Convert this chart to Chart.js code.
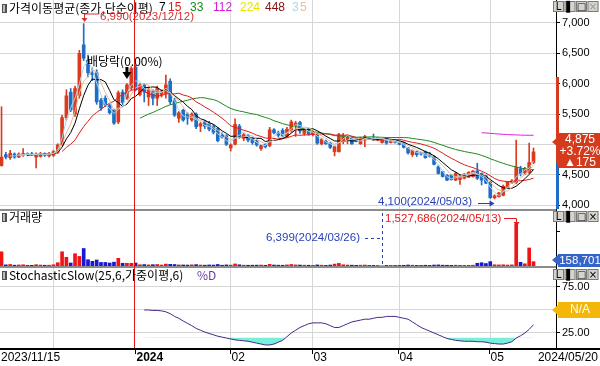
<!DOCTYPE html>
<html>
<head>
<meta charset="utf-8">
<script src="https://cdn.jsdelivr.net/npm/chart.js@4.4.0/dist/chart.umd.min.js"></script>
<style>
html, body { margin: 0; padding: 0; background: #fff; }
#wrap { position: relative; width: 600px; height: 366px; }
</style>
</head>
<body>
<div id="wrap"><canvas id="stockChart" width="600" height="366"></canvas></div>
<script>
//
// data (daily, 2023/11/15 .. 2024/05/20)
//
var opens  = [4650,4830,4780,4840,4790,4820,4840,4840,4790,4800,4850,4810,4820,4870,4990,5440,5860,5500,5800,6640,
              6390,6180,6180,5730,5760,5640,5570,5370,5860,5760,5930,6270,5820,5980,5780,5880,5760,5820,5840,6040,
              5720,5430,5560,5500,5400,5500,5300,5380,5340,5300,5260,5150,5140,4940,5000,5300,5100,5150,5100,5060,
              4930,5000,4980,5240,5190,5230,5130,5220,5310,5360,5180,5250,5160,5170,5010,5050,5020,4880,4880,5060,
              5070,5110,5100,5010,5070,5110,5110,5070,5030,5100,5030,5050,5040,5030,4940,4830,4880,4860,4880,4840,
              4800,4630,4550,4490,4490,4410,4420,4440,4460,4470,4560,4520,4480,4380,4120,4140,4160,4300,4370,4370,
              4600,4530,4540,4700];
var highs  = [5620,4870,4900,4860,4860,4930,4860,4870,4860,4870,4860,4870,4900,5010,5480,5900,5920,5960,6550,6990,
              6470,6260,6230,5760,5800,5660,5580,5880,5900,6000,6280,6300,6000,6000,5950,5900,5960,5900,6140,6080,
              5760,5540,5580,5520,5520,5520,5360,5400,5380,5330,5280,5190,5160,5010,5420,5330,5180,5160,5120,5080,
              5000,5010,5280,5260,5220,5260,5280,5400,5380,5380,5260,5270,5230,5180,5100,5070,5030,4970,5180,5180,
              5160,5130,5110,5120,5150,5120,5170,5120,5090,5110,5080,5060,5050,5040,4950,4910,4890,4870,4890,4870,
              4810,4650,4560,4500,4500,4540,4490,4520,4550,4570,4690,4530,4490,4390,4170,4210,4330,4390,4420,5070,
              4640,4620,5020,4940];
var lows   = [4640,4760,4750,4770,4780,4800,4810,4820,4610,4790,4800,4790,4800,4850,4980,5400,5540,5460,5760,6380,
              6110,6050,5660,5560,5620,5500,5330,5340,5650,5740,5900,5880,5800,5700,5640,5650,5640,5780,5760,5660,
              5460,5360,5380,5330,5380,5260,5210,5260,5220,5170,5040,5100,4980,4890,4990,5100,5060,5040,5000,4970,
              4900,4940,4960,5170,5120,5120,5120,5200,5130,5180,5150,5150,5140,5000,4990,5000,4930,4810,4870,5010,
              5010,5000,5040,5000,4960,5080,5060,5060,5020,5000,5020,5020,4990,4940,4840,4800,4800,4820,4770,4790,
              4660,4510,4460,4400,4410,4400,4340,4430,4450,4460,4420,4330,4350,4110,4100,4130,4150,4290,4350,4350,
              4480,4500,4520,4680];
var closes = [4790,4790,4850,4790,4840,4850,4830,4830,4840,4850,4820,4850,4880,4990,5440,5800,5570,5920,6500,6420,
              6180,6150,5700,5600,5650,5520,5350,5850,5690,5980,6250,5900,5980,5860,5900,5760,5920,5880,5980,5700,
              5480,5520,5400,5430,5500,5290,5340,5300,5250,5200,5060,5120,5000,4990,5330,5130,5160,5070,5030,4990,
              4980,4960,5240,5190,5150,5140,5250,5370,5350,5220,5240,5170,5200,5020,5080,5010,4950,4960,5160,5140,
              5150,5010,5050,5100,5130,5090,5090,5110,5080,5020,5070,5030,5000,4950,4860,4900,4830,4840,4780,4800,
              4670,4520,4470,4410,4420,4520,4480,4510,4540,4560,4440,4410,4360,4120,4150,4200,4310,4380,4400,4620,
              4520,4600,4700,4875];
var volumes = [520000,42000,55000,30000,38000,45000,22000,25000,48000,35000,28000,30000,46000,120000,520000,320000,110000,450000,350000,640000,
               230000,170000,220000,130000,130000,110000,140000,280000,100000,100000,100000,110000,45000,52000,40000,48000,55000,35000,70000,60000,
               55000,40000,38000,35000,42000,50000,35000,30000,38000,35000,55000,28000,40000,32000,75000,45000,30000,28000,30000,32000,
               35000,25000,60000,35000,30000,28000,40000,55000,40000,35000,30000,28000,25000,40000,30000,22000,35000,70000,95000,45000,
               35000,30000,25000,30000,35000,20000,22000,20000,6399,20000,22000,18000,20000,25000,35000,30000,22000,20000,28000,22000,
               35000,40000,30000,28000,25000,30000,25000,22000,25000,30000,100000,120000,90000,160000,45000,40000,45000,35000,40000,1527686,
               135000,80000,660000,158701];
// StochasticSlow %D, first value at index 33
var stochStart = 33;
var stochD = [50,50,49.5,49.5,49,48,
              46,43,41,38,35.5,33,30,
              28,26,24.5,23,21.5,20.5,19.5,
              18.5,17.5,17,16.5,16,15,14,
              13,12,12,13,15,17,21,
              25,28,31,33,35,36,36,
              36,35,33,31,31,33,35,
              37,38,39,40,40,41,42,
              42,43,43,43,42,41,40,
              37,34,31,29,27,25,23,
              21,19,18,17,16.5,16,16,
              16,15.5,15.5,15,14,13.5,13,
              13,14,15.5,19.5,22,25,29,34];

var maPeriods = [3, 5, 7, 15, 33, 112];
var maColors  = ['#a9d6ea', '#e4b996', '#000000', '#e01a1a', '#1c8a1c', '#e21ee2'];

var xGridIdx    = [12, 53, 72, 92, 113];
var yearIdx     = 31;
var xTickIdx    = [31, 53, 72, 92, 113];
var xTickLabels = ['2024', '02', '03', '04', '05'];
var firstDate = '2023/11/15', lastDate = '2024/05/20';

var upCol = '#dc3a1c', dnCol = '#1f6ec6';
var volUpCol = '#f01414', volDnCol = '#1818d6';

function sma(arr, n) {
	return arr.map(function(v, i) {
		if (i < n - 1) return null;
		var s = 0;
		for (var k = i - n + 1; k <= i; k++) s += arr[k];
		return s / n;
	});
}

var candleCols = closes.map(function(c, i) { return c >= opens[i] ? upCol : dnCol; });
var volCols = closes.map(function(c, i) { return c >= opens[i] ? volUpCol : volDnCol; });

var datasets = [];

maPeriods.forEach(function(n, k) {
	var ma = sma(closes, n);
	datasets.push({
		type: 'line', yAxisID: 'yP', order: 1,
		data: ma.map(function(v, i) { return {x: i, y: v}; }),
		borderColor: maColors[k], borderWidth: 1, pointRadius: 0, tension: 0
	});
});

datasets.push({
	type: 'line', yAxisID: 'yS', order: 1,
	data: stochD.map(function(v, k) { return {x: stochStart + k, y: v}; }),
	borderColor: '#4a2687', borderWidth: 1, pointRadius: 0, tension: 0,
	fill: {target: {value: 20}, above: 'rgba(0,0,0,0)', below: '#78efd9'}
});

// wicks
datasets.push({
	type: 'bar', yAxisID: 'yP', order: 2, grouped: false,
	data: lows.map(function(l, i) { return {x: i, y: [l, highs[i]]}; }),
	backgroundColor: candleCols, barThickness: 1, borderWidth: 0
});
// bodies
datasets.push({
	type: 'bar', yAxisID: 'yP', order: 2, grouped: false,
	data: opens.map(function(o, i) { return {x: i, y: [o, closes[i]]}; }),
	backgroundColor: candleCols, barThickness: 3, borderWidth: 0, minBarLength: 1
});
// volume
datasets.push({
	type: 'bar', yAxisID: 'yV', order: 2, grouped: false,
	data: volumes.map(function(v, i) { return {x: i, y: v}; }),
	backgroundColor: volCols, barThickness: 3, borderWidth: 0
});

function fixWidth(s) { s.width = 44; s.paddingTop = 0; s.paddingBottom = 0; }
function setTicks(list) { return function(s) { s.ticks = list.map(function(v) { return {value: v}; }); }; }

var priceTicks = [], volTicks = [];
for (var p = 4000; p <= 7250; p += 250) priceTicks.push(p);
for (var q = 250000; q <= 1750000; q += 250000) volTicks.push(q);

var tickFont = {family: 'Liberation Sans', size: 11};

function hLabel(step, fmt) {
	return function(v) { return v % step === 0 ? fmt(v) : ''; };
}

var overlay = {
	id: 'overlay',
	afterDraw: function(chart) {
		var ctx = chart.ctx;
		var xs = chart.scales.x, yP = chart.scales.yP;
		ctx.save();

		// panel separators and bottom line
		ctx.fillStyle = '#8c8c8c';
		ctx.fillRect(0, 209, 556, 2);
		ctx.fillRect(0, 266, 556, 2);
		ctx.fillStyle = '#000';
		ctx.fillRect(0, 348, 600, 2);

		// year line
		var xj = Math.floor(xs.getPixelForValue(yearIdx)) - 1;
		ctx.fillStyle = '#e01414';
		ctx.fillRect(xj, 0, 1, 348);

		// axis range bar
		ctx.fillStyle = '#d83a1c';
		ctx.fillRect(556, yP.getPixelForValue(6110), 3, yP.getPixelForValue(4700) - yP.getPixelForValue(6110));
		ctx.fillStyle = '#1f6ec6';
		ctx.fillRect(556, yP.getPixelForValue(4700), 3, 209 - yP.getPixelForValue(4700));

		// headers
		ctx.textBaseline = 'middle';
		ctx.textAlign = 'left';
		function icon(y) {
			ctx.fillStyle = '#505050'; ctx.fillRect(2, y - 4, 5, 9);
			ctx.fillStyle = '#b8b8b8'; ctx.fillRect(3, y - 3, 2, 7);
		}
		icon(8); icon(217); icon(275);
		ctx.font = '12px "Noto Sans CJK KR"';
		ctx.fillStyle = '#000';
		ctx.fillText('가격이동평균(종가,단순이평)', 9, 8);
		var legTxt = ['7', '15', '33', '112', '224', '448', '3', '5'];
		var legCol = ['#000000', '#e01a1a', '#1c8a1c', '#d21ed2', '#e6e600', '#8a1010', '#b4d6e6', '#e2c49e'];
		var legX = [159, 168, 190, 213, 240, 265, 292, 300];
		ctx.font = '12px "Liberation Sans"';
		legTxt.forEach(function(t, k) { ctx.fillStyle = legCol[k]; ctx.fillText(t, legX[k], 8); });
		ctx.font = '12px "Noto Sans CJK KR"';
		ctx.fillStyle = '#000';
		ctx.fillText('거래량', 9, 217);
		ctx.fillText('StochasticSlow(25,6,가중이평,6)', 9, 275);
		ctx.fillStyle = '#6b3aa8';
		ctx.fillText('%D', 197, 275);

		// high marker
		var xh = Math.round(xs.getPixelForValue(19)) + 0.5;
		ctx.strokeStyle = '#d83030'; ctx.fillStyle = '#d83030'; ctx.lineWidth = 1;
		ctx.beginPath(); ctx.moveTo(xh, 21); ctx.lineTo(xh, 14); ctx.lineTo(99, 14); ctx.stroke();
		ctx.beginPath(); ctx.moveTo(xh - 3, 18); ctx.lineTo(xh + 3, 18); ctx.lineTo(xh, 22); ctx.fill();
		ctx.font = '11.5px "Liberation Sans"';
		ctx.fillText('6,990(2023/12/12)', 100, 17);

		// ex-dividend marker
		ctx.fillStyle = '#000';
		ctx.font = '12px "Noto Sans CJK KR"';
		ctx.fillText('배당락(0.00%)', 87, 61);
		var xd = xs.getPixelForValue(29);
		ctx.fillRect(xd - 1.5, 67, 3, 6);
		ctx.beginPath(); ctx.moveTo(xd - 4.5, 72); ctx.lineTo(xd + 4.5, 72); ctx.lineTo(xd, 79); ctx.fill();

		// low marker
		var xl = xs.getPixelForValue(114);
		ctx.fillStyle = '#2a40b8'; ctx.strokeStyle = '#2a40b8';
		ctx.font = '11.5px "Liberation Sans"';
		ctx.fillText('4,100(2024/05/03)', 378, 202);
		ctx.beginPath(); ctx.moveTo(478, 203.5); ctx.lineTo(xl - 2, 203.5); ctx.stroke();
		ctx.beginPath(); ctx.moveTo(xl - 5, 200.5); ctx.lineTo(xl, 203.5); ctx.lineTo(xl - 5, 206.5); ctx.fill();

		// min volume marker
		var xm = Math.round(xs.getPixelForValue(88)) + 0.5;
		ctx.fillText('6,399(2024/03/26)', 266, 238);
		ctx.setLineDash([3, 3]);
		ctx.beginPath(); ctx.moveTo(365, 238.5); ctx.lineTo(xm, 238.5); ctx.stroke();
		ctx.beginPath(); ctx.moveTo(xm, 213); ctx.lineTo(xm, 266); ctx.stroke();
		ctx.setLineDash([]);

		// max volume marker
		var xv = Math.round(xs.getPixelForValue(119)) + 0.5;
		ctx.fillStyle = '#e41a1a'; ctx.strokeStyle = '#e41a1a';
		ctx.fillText('1,527,686(2024/05/13)', 385, 219);
		ctx.beginPath(); ctx.moveTo(504, 218.5); ctx.lineTo(xv, 218.5); ctx.lineTo(xv, 223); ctx.stroke();
		ctx.beginPath(); ctx.moveTo(xv - 3, 222); ctx.lineTo(xv + 3, 222); ctx.lineTo(xv, 226); ctx.fill();

		// right tags
		function tag(top, bot, py, col) {
			ctx.fillStyle = col;
			ctx.beginPath();
			ctx.moveTo(558, top); ctx.lineTo(600, top); ctx.lineTo(600, bot); ctx.lineTo(558, bot);
			ctx.lineTo(558, py + 5); ctx.lineTo(552, py); ctx.lineTo(558, py - 5);
			ctx.closePath(); ctx.fill();
		}
		ctx.textAlign = 'center';
		tag(133, 168, 142, '#d63a1c');
		ctx.fillStyle = '#fff'; ctx.font = '12px "Liberation Sans"';
		ctx.fillText('4,875', 580, 140);
		ctx.fillText('+3.72%', 580, 152);
		ctx.fillText('\u25B2175', 580, 163);
		tag(254, 267, 260, '#3564c8');
		ctx.fillStyle = '#fff'; ctx.font = '11.5px "Liberation Sans"';
		ctx.fillText('158,701', 580, 261);
		tag(302, 318, 310, '#f3b60a');
		ctx.fillStyle = '#fff'; ctx.font = '12px "Liberation Sans"';
		ctx.fillText('N/A', 580, 310);

		// panel buttons
		function buttons(y) {
			var g = ['L', '\u258C', '\u25A1', '\u00D7'];
			for (var k = 0; k < 4; k++) {
				var bx = 553 + k * 11.5;
				ctx.fillStyle = '#d6d3ce'; ctx.fillRect(bx, y, 11, 11);
				ctx.strokeStyle = '#7a7a7a'; ctx.strokeRect(bx + 0.5, y + 0.5, 10, 10);
				ctx.fillStyle = (k === 3 && y < 100) ? '#9a9a9a' : '#000';
				ctx.font = '10px "DejaVu Sans"';
				ctx.fillText(g[k], bx + 5.5, y + 6);
			}
		}
		buttons(1); buttons(211); buttons(269);

		// x labels
		ctx.fillStyle = '#000'; ctx.strokeStyle = '#000';
		ctx.textAlign = 'left';
		ctx.font = '12px "Liberation Sans"';
		ctx.fillText(firstDate, 1, 358);
		xTickIdx.forEach(function(idx, k) {
			var tx = Math.round(xs.getPixelForValue(idx)) - 0.5;
			ctx.beginPath(); ctx.moveTo(tx, 349); ctx.lineTo(tx, 354); ctx.stroke();
			ctx.font = (k === 0 ? 'bold ' : '') + '12px "Liberation Sans"';
			ctx.fillText(xTickLabels[k], tx + 1, 358);
		});
		ctx.textAlign = 'right';
		ctx.font = '12px "Liberation Sans"';
		ctx.fillText(lastDate, 598, 358);
		ctx.restore();
	}
};

new Chart(document.getElementById('stockChart'), {
	type: 'bar',
	data: {datasets: datasets},
	options: {
		responsive: false,
		animation: false,
		layout: {padding: 0, autoPadding: false},
		plugins: {legend: {display: false}, tooltip: {enabled: false}},
		scales: {
			x: {
				type: 'linear', min: -0.35, max: 128.2, offset: false,
				afterBuildTicks: setTicks(xGridIdx),
				afterFit: function(s) { s.height = 18; s.paddingLeft = 0; s.paddingRight = 0; },
				ticks: {display: false},
				grid: {color: '#d6d6d6', drawTicks: false, offset: false},
				border: {display: false}
			},
			yP: {
				position: 'right', stack: 'panes', stackWeight: 210,
				min: 3918, max: 7379,
				afterBuildTicks: setTicks(priceTicks),
				afterFit: fixWidth,
				ticks: {font: tickFont, color: '#000', padding: 2, callback: hLabel(500, function(v) { return v.toLocaleString('en-US'); })},
				grid: {color: function(c) { return c.tick && c.tick.value % 500 === 0 ? '#d6d6d6' : 'rgba(0,0,0,0)'; }, tickColor: '#000', tickLength: 4},
				border: {color: '#000'}
			},
			yV: {
				position: 'right', stack: 'panes', stackWeight: 57,
				min: -36600, max: 2049000,
				afterBuildTicks: setTicks(volTicks),
				afterFit: fixWidth,
				ticks: {font: tickFont, color: '#000', padding: 2, callback: hLabel(500000, function(v) { return v.toLocaleString('en-US'); })},
				grid: {drawOnChartArea: false, tickColor: '#000', tickLength: 4},
				border: {color: '#000'}
			},
			yS: {
				position: 'right', stack: 'panes', stackWeight: 81,
				min: 8.7, max: 96.7,
				afterBuildTicks: setTicks([25, 37.5, 50, 62.5, 75]),
				afterFit: fixWidth,
				ticks: {font: tickFont, color: '#000', padding: 2, callback: hLabel(25, function(v) { return v.toFixed(2); })},
				grid: {color: function(c) { return c.tick && c.tick.value % 25 === 0 ? '#d6d6d6' : 'rgba(0,0,0,0)'; }, tickColor: '#000', tickLength: 4},
				border: {color: '#000'}
			}
		}
	},
	plugins: [overlay]
});
</script>
</body>
</html>
